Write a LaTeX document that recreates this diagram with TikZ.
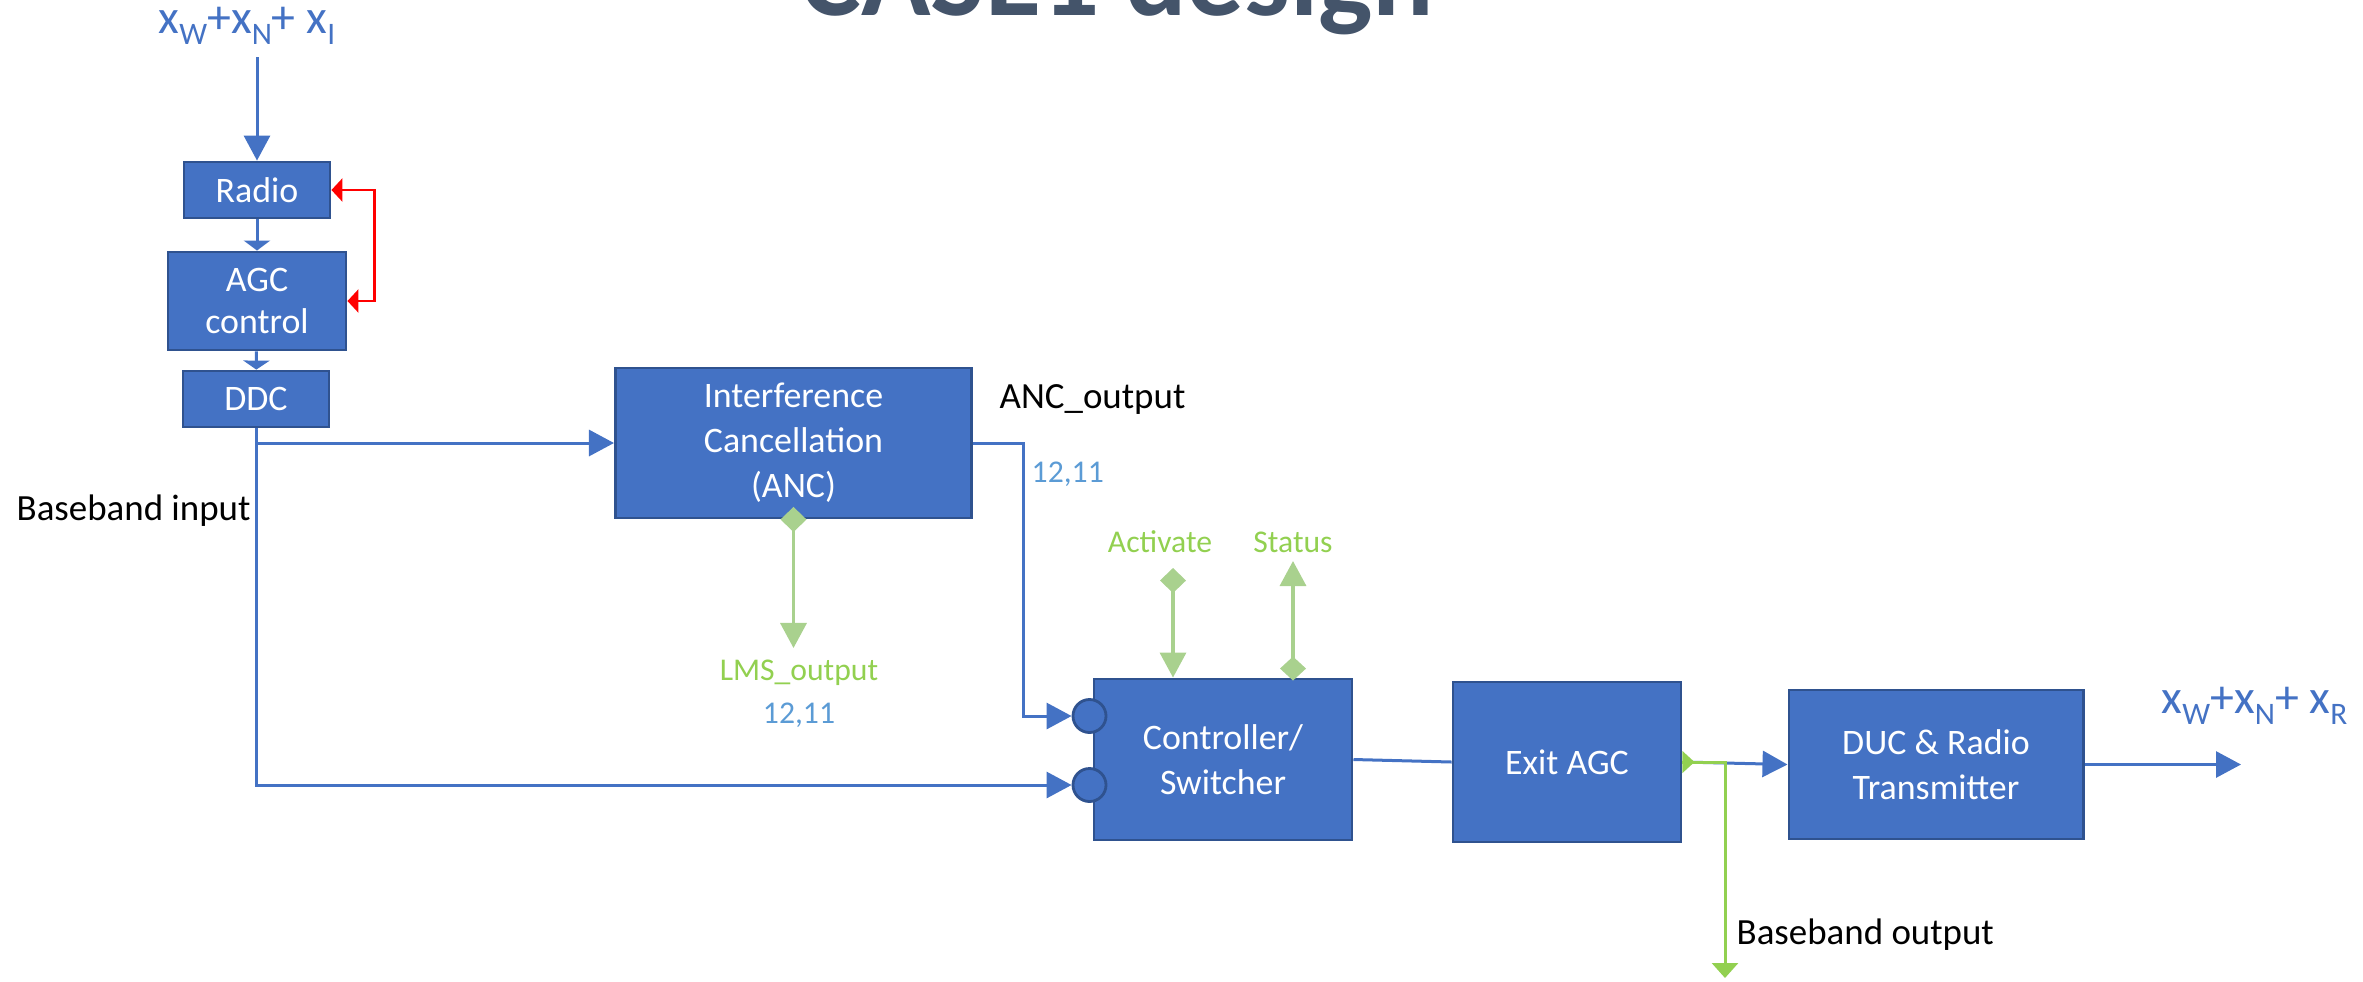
\documentclass[tikz,border=0pt]{standalone}
\usepackage{fontspec}
\setmainfont{Carlito}
\usetikzlibrary{arrows.meta}

\definecolor{boxfill}{HTML}{4472C4}
\definecolor{boxline}{HTML}{2F528F}
\definecolor{wireblue}{HTML}{4472C4}
\definecolor{ctlgreen}{HTML}{A9D18E}
\definecolor{brightgreen}{HTML}{92D050}
\definecolor{numblue}{HTML}{5B9BD5}
\definecolor{titlegray}{HTML}{44546A}
\definecolor{loopred}{HTML}{FF0000}

% lowered, smaller subscript letter for the signal labels
\newcommand\sigsub[1]{\raisebox{-0.25em}{\fontsize{8.9}{10}\selectfont #1}}

\tikzset{
  blk/.style={draw=boxline, line width=0.028cm, fill=boxfill, text=white,
    font=\fontsize{10.2}{12.8}\selectfont, align=center, inner sep=0pt},
  port/.style={circle, draw=boxline, fill=boxfill, line width=0.028cm,
    minimum size=0.33cm, inner sep=0pt},
  wire/.style={draw=wireblue, line width=0.03cm},
  redwire/.style={draw=loopred, line width=0.028cm},
  ctlwire/.style={draw=ctlgreen, line width=0.034cm},
  outwire/.style={draw=brightgreen, line width=0.03cm},
  bigtip/.style={-{Triangle[length=0.25cm,width=0.26cm]}},
  lblk/.style={inner sep=0pt, text=black, font=\fontsize{10.5}{12}\selectfont},
  lgrn/.style={inner sep=0pt, text=brightgreen, font=\fontsize{9}{11}\selectfont},
  lnum/.style={inner sep=0pt, text=numblue, font=\fontsize{9}{11}\selectfont},
  sig/.style={inner sep=0pt, text=wireblue, font=\fontsize{13.6}{15}\selectfont},
}

\begin{document}
\begin{tikzpicture}[x=0.01cm,y=-0.01cm]
\useasboundingbox (0,0) rectangle (2363,981);
\clip (0,0) rectangle (2363,981);

% heading, mostly above the page edge
\node[anchor=base west, inner sep=0pt, text=titlegray,
      font=\fontsize{32.6}{36}\selectfont\bfseries] (title) at (800,15) {CASE1 design};

% receive chain
\node[sig, anchor=base west] (inlbl) at (158,33) {x\sigsub{W}+x\sigsub{N}+ x\sigsub{I}};
\coordinate (inTop) at (257,57);
\node[blk, minimum width=1.46cm, minimum height=0.56cm] (radio) at (257,190) {Radio};
\node[blk, minimum width=1.78cm, minimum height=0.98cm,
      font=\fontsize{10.2}{11.7}\selectfont] (agc) at (257,301) {AGC\\control};
\node[blk, minimum width=1.46cm, minimum height=0.56cm] (ddc) at (256,399) {DDC};

% processing blocks
\node[blk, minimum width=3.56cm, minimum height=1.50cm] (anc) at (793.5,443)
  {Interference\\Cancellation\\(ANC)};
\node[blk, minimum width=2.58cm, minimum height=1.61cm] (ctrl) at (1223,759.5)
  {Controller/\\Switcher};
\node[blk, minimum width=2.28cm, minimum height=1.60cm] (exitagc) at (1567,762) {Exit AGC};
\node[blk, minimum width=2.94cm, minimum height=1.49cm] (duc) at (1936,764.5)
  {DUC \& Radio\\Transmitter};
\node[port] (p1) at (1089.5,716) {};
\node[port] (p2) at (1089.5,785) {};

% blue signal path
\draw[wire, bigtip] (inTop) -- (radio.north);
\draw[wire, -{Triangle[length=0.10cm,width=0.26cm]}] (radio) -- (agc);
\draw[wire, -{Triangle[length=0.09cm,width=0.26cm]}] (agc) -- (ddc);
\draw[wire, bigtip] (ddc.south) |- (anc.west);
\draw[wire, bigtip] (ddc.south) |- (p2.west);
\draw[wire, bigtip] (anc.east) -- ++(50,0) |- (p1.west);
\draw[wire] (ctrl.east) -- (exitagc.west);
\draw[wire, bigtip] (exitagc.east) -- (duc.west);
\coordinate (outR) at (2241,764.5);
\draw[wire, bigtip] (duc.east) -- (outR);

% gain control loop
\draw[redwire, {Triangle[length=0.11cm,width=0.23cm]}-{Triangle[length=0.11cm,width=0.23cm]}]
  (agc.east) -- ++(27,0) |- (radio.east);

% control / monitor lines
\coordinate (lmsTip) at (793.5,648);
\draw[ctlwire, {Diamond[length=0.25cm,width=0.26cm]}-{Triangle[length=0.25cm,width=0.26cm]},
      shorten <=-0.125cm] (anc.south) -- (lmsTip);
\coordinate (actTop) at (1173,568);
\draw[ctlwire, {Diamond[length=0.25cm,width=0.26cm]}-{Triangle[length=0.25cm,width=0.26cm]}]
  (actTop) -- (actTop |- ctrl.north);
\coordinate (statTop) at (1293,561);
\draw[ctlwire, {Diamond[length=0.24cm,width=0.26cm]}-{Triangle[length=0.25cm,width=0.26cm]},
      shorten <=-0.03cm] (statTop |- ctrl.north) -- (statTop);

% baseband tap after the exit AGC
\coordinate (bbTip) at (1725,978);
\draw[outwire, -{Triangle[length=0.15cm,width=0.26cm]}]
  (exitagc.east) -- (exitagc.east -| bbTip) -- (bbTip);
\fill[brightgreen] (exitagc.east) ++(0,-11) -- ++(12,11) -- ++(-12,11) -- cycle;

% labels
\node[lblk, anchor=base west] (bbin) at (16,520) {Baseband input};
\node[lblk, anchor=base west] (ancout) at (999,408) {ANC\_output};
\node[lnum, anchor=base west] (ancbits) at (1031,482) {12,11};
\node[lgrn, anchor=base] (lmslbl) at (799,680) {LMS\_output};
\node[lnum, anchor=base] (lmsbits) at (799,723) {12,11};
\node[lgrn, anchor=base] (actlbl) at (1160,552) {Activate};
\node[lgrn, anchor=base] (statlbl) at (1293,552) {Status};
\node[lblk, anchor=base west] (bbout) at (1736,944) {Baseband output};
\node[sig, anchor=base west] (outlbl) at (2161,713) {x\sigsub{W}+x\sigsub{N}+ x\sigsub{R}};
\end{tikzpicture}
\end{document}
